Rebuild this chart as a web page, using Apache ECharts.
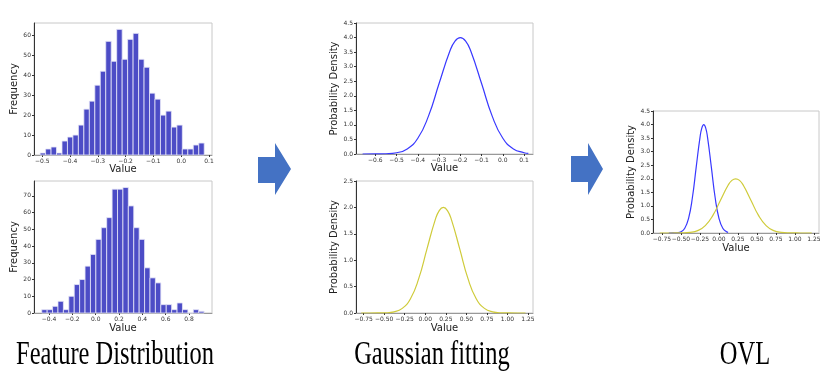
<!DOCTYPE html>
<html>
<head>
<meta charset="utf-8">
<style>
  html, body { margin: 0; padding: 0; background: #fff; }
  #chart { width: 830px; height: 382px; }
</style>
<script src="https://cdn.jsdelivr.net/npm/echarts@6/dist/echarts.min.js"></script>
</head>
<body>
<div id="chart"></div>
<script>
// histogram counts, 30 bins each
const hist1Counts = [1, 3, 4, 1, 7, 9, 10, 15, 23, 27, 35, 42, 57, 47, 63, 48, 58, 61, 48, 44, 31, 28, 20, 22, 14, 15, 3, 3, 5, 6];
const hist1BinStart = -0.508;
const hist1BinWidth = 0.0197;
const hist2Counts = [2, 2, 4, 7, 2, 10, 17, 20, 28, 35, 44, 51, 57, 74, 74, 75, 64, 51, 44, 27, 21, 18, 5, 5, 2, 6, 2, 0, 2, 1];
const hist2BinStart = -0.4626;
const hist2BinWidth = 0.0464;

// fitted density curves
const blueX = [-0.66, -0.6, -0.55, -0.5, -0.45, -0.4, -0.35, -0.3, -0.25, -0.225, -0.2, -0.175, -0.15, -0.1, -0.05, 0.0, 0.05, 0.1, 0.12];
const blueY = [0.0, 0.001, 0.009, 0.044, 0.175, 0.54, 1.30, 2.42, 3.52, 3.88, 4.0, 3.88, 3.52, 2.42, 1.30, 0.54, 0.175, 0.044, 0.02];
const yellowX = [-0.78, -0.68, -0.58, -0.48, -0.38, -0.28, -0.18, -0.08, 0.02, 0.12, 0.17, 0.22, 0.27, 0.32, 0.42, 0.52, 0.62, 0.72, 0.82, 0.92, 1.02, 1.12, 1.22];
const yellowY = [0.0, 0.0, 0.001, 0.004, 0.022, 0.088, 0.27, 0.65, 1.21, 1.76, 1.94, 2.0, 1.94, 1.76, 1.21, 0.65, 0.27, 0.088, 0.022, 0.004, 0.001, 0.0, 0.0];

// tick labels
const hist1XTicks = [-0.5, -0.4, -0.3, -0.2, -0.1, 0.0, 0.1];
const hist1YTicks = [0, 10, 20, 30, 40, 50, 60];
const hist2XTicks = [-0.4, -0.2, 0.0, 0.2, 0.4, 0.6, 0.8];
const hist2YTicks = [0, 10, 20, 30, 40, 50, 60, 70];
const gauss1XTicks = [-0.6, -0.5, -0.4, -0.3, -0.2, -0.1, 0.0, 0.1];
const wideXTicks = [-0.75, -0.5, -0.25, 0.0, 0.25, 0.5, 0.75, 1.0, 1.25];
const dens45Ticks = [0, 0.5, 1.0, 1.5, 2.0, 2.5, 3.0, 3.5, 4.0, 4.5];
const dens25Ticks = [0, 0.5, 1.0, 1.5, 2.0, 2.5];

const FONT = 'DejaVu Sans';
const BAR = '#4c4cc6';
const BLUE = '#3838ff';
const YELLOW = '#cfcb3a';
const ARROW = '#4472c4';

const fmt = d => v => v.toFixed(d).replace('-', '\u2212');

function xAx(grid, min, max, ticks, dec, gap) {
  return {
    type: 'value', gridIndex: grid, min: min, max: max,
    name: 'Value', nameLocation: 'middle', nameGap: gap,
    nameTextStyle: { fontFamily: FONT, fontSize: 10, color: '#222' },
    axisLine: { show: true, onZero: false, lineStyle: { color: '#999', width: 1 } },
    axisTick: { show: true, length: 2, customValues: ticks, lineStyle: { color: '#333' } },
    axisLabel: { customValues: ticks, formatter: fmt(dec), fontFamily: FONT, fontSize: 6, color: '#333', margin: 3, hideOverlap: false },
    splitLine: { show: false }
  };
}
function yAx(grid, max, ticks, dec, name, gap) {
  return {
    type: 'value', gridIndex: grid, min: 0, max: max,
    name: name, nameLocation: 'middle', nameGap: gap, nameRotate: 90,
    nameTextStyle: { fontFamily: FONT, fontSize: 10, color: '#222' },
    axisLine: { show: true, onZero: false, lineStyle: { color: '#333', width: 1 } },
    axisTick: { show: true, length: 2, customValues: ticks, lineStyle: { color: '#333' } },
    axisLabel: { customValues: ticks, formatter: fmt(dec), fontFamily: FONT, fontSize: 6, color: '#333', margin: 3, hideOverlap: false },
    splitLine: { show: false }
  };
}

function histData(counts, start, width) {
  return counts.map((c, i) => [start + i * width, start + (i + 1) * width, c]);
}
function renderBin(params, api) {
  const p0 = api.coord([api.value(0), api.value(2)]);
  const p1 = api.coord([api.value(1), 0]);
  return {
    type: 'rect',
    shape: { x: p0[0], y: p0[1], width: p1[0] - p0[0], height: p1[1] - p0[1] },
    style: { fill: BAR, stroke: '#e6e6f7', lineWidth: 0.8 }
  };
}
const zip = (xs, ys) => xs.map((x, i) => [x, ys[i]]);

const gridBox = { show: true, borderColor: '#c8c8c8', borderWidth: 1, backgroundColor: '#fff' };

const option = {
  animation: false,
  backgroundColor: '#fff',
  grid: [
    Object.assign({ left: 34, top: 23, width: 178, height: 132 }, gridBox),
    Object.assign({ left: 34, top: 181, width: 178, height: 132 }, gridBox),
    Object.assign({ left: 356, top: 23, width: 177, height: 131 }, gridBox),
    Object.assign({ left: 356, top: 181, width: 177, height: 132 }, gridBox),
    Object.assign({ left: 653, top: 111, width: 166, height: 122 }, gridBox)
  ],
  xAxis: [
    xAx(0, -0.53, 0.111, hist1XTicks, 1, 8),
    xAx(1, -0.529, 0.997, hist2XTicks, 1, 10),
    xAx(2, -0.691, 0.142, gauss1XTicks, 1, 9),
    xAx(3, -0.843, 1.311, wideXTicks, 2, 10),
    xAx(4, -0.868, 1.316, wideXTicks, 2, 10)
  ],
  yAxis: [
    yAx(0, 66.2, hist1YTicks, 0, 'Frequency', 12),
    yAx(1, 78.9, hist2YTicks, 0, 'Frequency', 12),
    yAx(2, 4.5, dens45Ticks, 1, 'Probability Density', 16),
    yAx(3, 2.5, dens25Ticks, 1, 'Probability Density', 16),
    yAx(4, 4.5, dens45Ticks, 1, 'Probability Density', 15)
  ],
  series: [
    { type: 'custom', xAxisIndex: 0, yAxisIndex: 0, renderItem: renderBin, encode: { x: [0, 1], y: 2 },
      data: histData(hist1Counts, hist1BinStart, hist1BinWidth) },
    { type: 'custom', xAxisIndex: 1, yAxisIndex: 1, renderItem: renderBin, encode: { x: [0, 1], y: 2 },
      data: histData(hist2Counts, hist2BinStart, hist2BinWidth) },
    { type: 'line', xAxisIndex: 2, yAxisIndex: 2, data: zip(blueX, blueY), smooth: true, showSymbol: false,
      lineStyle: { color: BLUE, width: 1.2 } },
    { type: 'line', xAxisIndex: 3, yAxisIndex: 3, data: zip(yellowX, yellowY), smooth: true, showSymbol: false,
      lineStyle: { color: YELLOW, width: 1.2 } },
    { type: 'line', xAxisIndex: 4, yAxisIndex: 4, data: zip(blueX, blueY), smooth: true, showSymbol: false,
      lineStyle: { color: BLUE, width: 1.2 } },
    { type: 'line', xAxisIndex: 4, yAxisIndex: 4, data: zip(yellowX, yellowY), smooth: true, showSymbol: false,
      lineStyle: { color: YELLOW, width: 1.2 } }
  ],
  graphic: [
    { type: 'polygon', shape: { points: [[258, 157], [275, 157], [275, 143], [291, 169], [275, 195], [275, 183], [258, 183]] },
      style: { fill: ARROW } },
    { type: 'polygon', shape: { points: [[571, 156], [588, 156], [588, 143], [603, 169], [588, 195], [588, 182], [571, 182]] },
      style: { fill: ARROW } },
    { type: 'text', x: 115, y: 355, scaleX: 0.72,
      style: { text: 'Feature Distribution', font: '34px "Liberation Serif"', fill: '#000', textAlign: 'center', textVerticalAlign: 'middle' } },
    { type: 'text', x: 432, y: 355, scaleX: 0.72,
      style: { text: 'Gaussian fitting', font: '34px "Liberation Serif"', fill: '#000', textAlign: 'center', textVerticalAlign: 'middle' } },
    { type: 'text', x: 745, y: 355, scaleX: 0.72,
      style: { text: 'OVL', font: '34px "Liberation Serif"', fill: '#000', textAlign: 'center', textVerticalAlign: 'middle' } }
  ]
};

const chart = echarts.init(document.getElementById('chart'));
chart.setOption(option);
</script>
</body>
</html>
